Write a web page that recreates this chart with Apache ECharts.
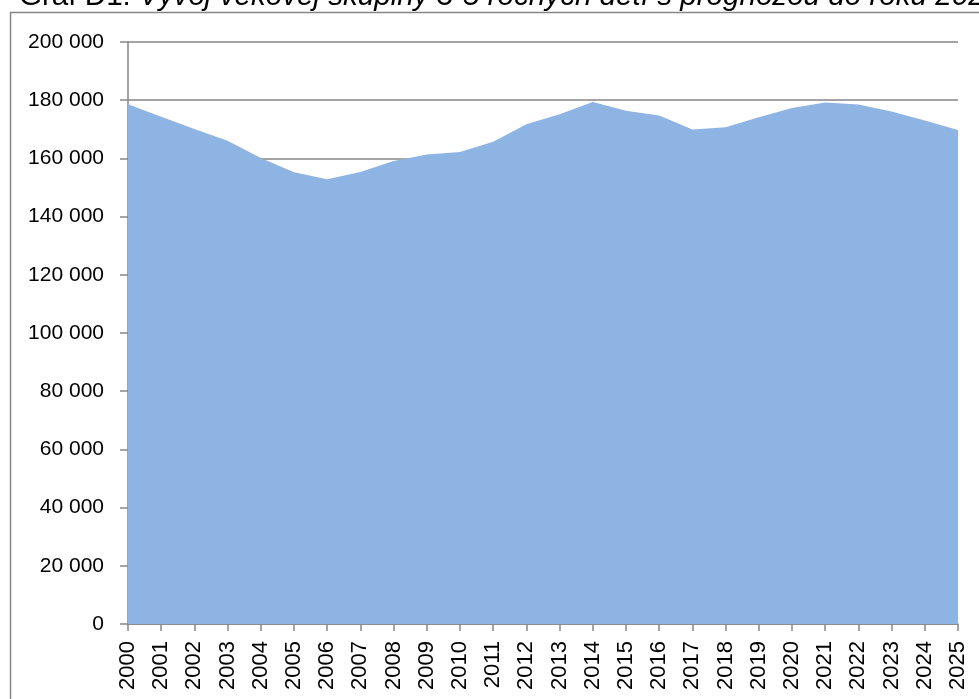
<!DOCTYPE html>
<html>
<head>
<meta charset="utf-8">
<style>
  html, body { margin: 0; padding: 0; background: #fff; }
  #chart { width: 979px; height: 699px; }
</style>
<script src="https://cdn.jsdelivr.net/npm/echarts@6/dist/echarts.min.js"></script>
</head>
<body>
<div id="chart"></div>
<script>
var years = ['2000', '2001', '2002', '2003', '2004', '2005', '2006', '2007', '2008', '2009',
    '2010', '2011', '2012', '2013', '2014', '2015', '2016', '2017', '2018', '2019',
    '2020', '2021', '2022', '2023', '2024', '2025'];
// pocet deti 3-5 rocnych (odcitane z grafu)
var deti = [178600, 174300, 170100, 166100, 160100, 155200, 152800, 155300, 159100, 161300,
    162200, 165700, 171700, 175200, 179400, 176400, 174700, 169900, 170700, 174100,
    177300, 179200, 178500, 176100, 173000, 169800];

var myChart = echarts.init(document.getElementById('chart'));

var option = {
    animation: false,
    title: {
        text: '{n|Graf D1: }{i|Vývoj vekovej skupiny 3-5 ročných detí s prognózou do roku 2025}',
        left: 14,
        top: -23,
        textStyle: {
            rich: {
                n: { fontFamily: 'Liberation Sans', fontSize: 29.6, fontWeight: 'normal', color: '#000' },
                i: { fontFamily: 'Liberation Sans', fontSize: 29.6, fontWeight: 'normal', fontStyle: 'italic', color: '#000' }
            }
        }
    },
    graphic: [{
        type: 'rect',
        shape: { x: 10.5, y: 12.5, width: 1000, height: 720 },
        style: { fill: 'none', stroke: '#868686', lineWidth: 1.5 },
        silent: true
    }],
    grid: {
        left: 128,
        right: 21,
        top: 42,
        bottom: 75
    },
    xAxis: {
        type: 'category',
        data: years,
        boundaryGap: false,
        axisLine: { lineStyle: { color: '#868686', width: 1.5 } },
        axisTick: { show: true, length: 7, alignWithLabel: true, lineStyle: { color: '#868686', width: 1.5 } },
        axisLabel: {
            rotate: 90,
            interval: 0,
            margin: 17,
            color: '#000',
            fontFamily: 'Liberation Sans',
            fontSize: 22
        }
    },
    yAxis: {
        type: 'value',
        min: 0,
        max: 200000,
        interval: 20000,
        axisLine: { show: true, lineStyle: { color: '#868686', width: 1.5 } },
        axisTick: { show: true, length: 8, lineStyle: { color: '#868686', width: 1.5 } },
        splitLine: { lineStyle: { color: '#868686', width: 1.5 } },
        axisLabel: {
            margin: 24,
            color: '#000',
            fontFamily: 'Liberation Sans',
            fontSize: 21,
            formatter: function (v) {
                return String(v).replace(/\B(?=(\d{3})+(?!\d))/g, ' ');
            }
        }
    },
    series: [{
        type: 'line',
        data: deti,
        showSymbol: false,
        lineStyle: { width: 0 },
        areaStyle: { color: '#8EB4E3', opacity: 1 }
    }]
};
myChart.setOption(option);
</script>
</body>
</html>
